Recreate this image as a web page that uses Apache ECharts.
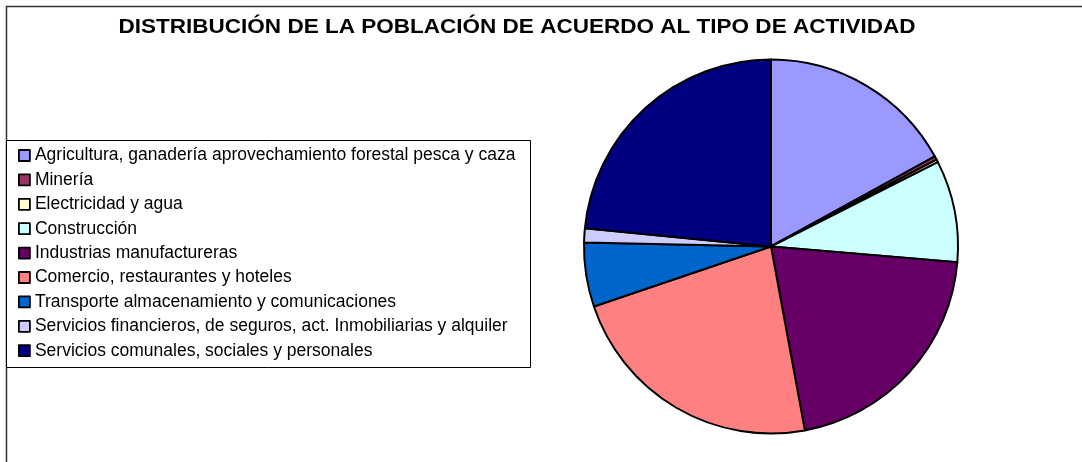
<!DOCTYPE html>
<html>
<head>
<meta charset="utf-8">
<script src="https://cdn.jsdelivr.net/npm/echarts@6/dist/echarts.min.js"></script>
<style>
  html, body { margin: 0; padding: 0; background: #fff; }
  #chart { width: 1082px; height: 462px; }
</style>
</head>
<body>
<div id="chart"></div>
<script>
const categories = [
  'Agricultura, ganadería aprovechamiento forestal pesca y caza',
  'Minería',
  'Electricidad y agua',
  'Construcción',
  'Industrias manufactureras',
  'Comercio, restaurantes y hoteles',
  'Transporte almacenamiento y comunicaciones',
  'Servicios financieros, de seguros, act. Inmobiliarias y alquiler',
  'Servicios comunales, sociales y personales'
]
// share of population (%)
const values = [17.0, 0.3, 0.25, 8.8, 20.75, 22.7, 5.55, 1.2, 23.45]
const colors = ['#9999FF', '#993366', '#FFFFCC', '#CCFFFF', '#660066', '#FF8080', '#0066CC', '#CCCCFF', '#000080']
const titleText = 'DISTRIBUCIÓN DE LA POBLACIÓN DE ACUERDO AL TIPO DE ACTIVIDAD'

const chart = echarts.init(document.getElementById('chart'))
const font = '"Liberation Sans", Arial, sans-serif'

chart.setOption({
  animation: false,
  backgroundColor: '#fff',
  graphic: [
    {
      type: 'rect', silent: true,
      shape: { x: 6.5, y: 6.5, width: 1200, height: 600 },
      style: { fill: 'none', stroke: '#333', lineWidth: 1.5 }
    },
    {
      type: 'rect', silent: true,
      shape: { x: 6.5, y: 140.5, width: 524, height: 227 },
      style: { fill: '#fff', stroke: '#000', lineWidth: 1 }, z: 0
    },
    {
      // the original title is drawn a bit wide, so stretch it horizontally
      type: 'text', silent: true,
      x: 517, y: 28, scaleX: 1.155,
      style: {
        text: titleText,
        font: 'bold 19.5px ' + font,
        fill: '#000',
        align: 'center',
        verticalAlign: 'middle'
      }
    }
  ],
  legend: {
    orient: 'vertical',
    left: 18,
    top: 146.5,
    padding: 0,
    itemGap: 6.4,
    itemWidth: 11,
    itemHeight: 11,
    icon: 'rect',
    itemStyle: { borderColor: '#000', borderWidth: 1.8 },
    textStyle: { fontFamily: font, fontSize: 17.5, color: '#000', padding: [0, 0, 0, 0], lineHeight: 17 },
    data: categories
  },
  series: [{
    type: 'pie',
    center: [771, 246.5],
    radius: 187,
    startAngle: 90,
    clockwise: true,
    label: { show: false },
    labelLine: { show: false },
    emphasis: { disabled: true },
    itemStyle: { borderColor: '#000', borderWidth: 2 },
    data: categories.map((name, i) => ({
      name,
      value: values[i],
      itemStyle: { color: colors[i] }
    }))
  }]
})
</script>
</body>
</html>
